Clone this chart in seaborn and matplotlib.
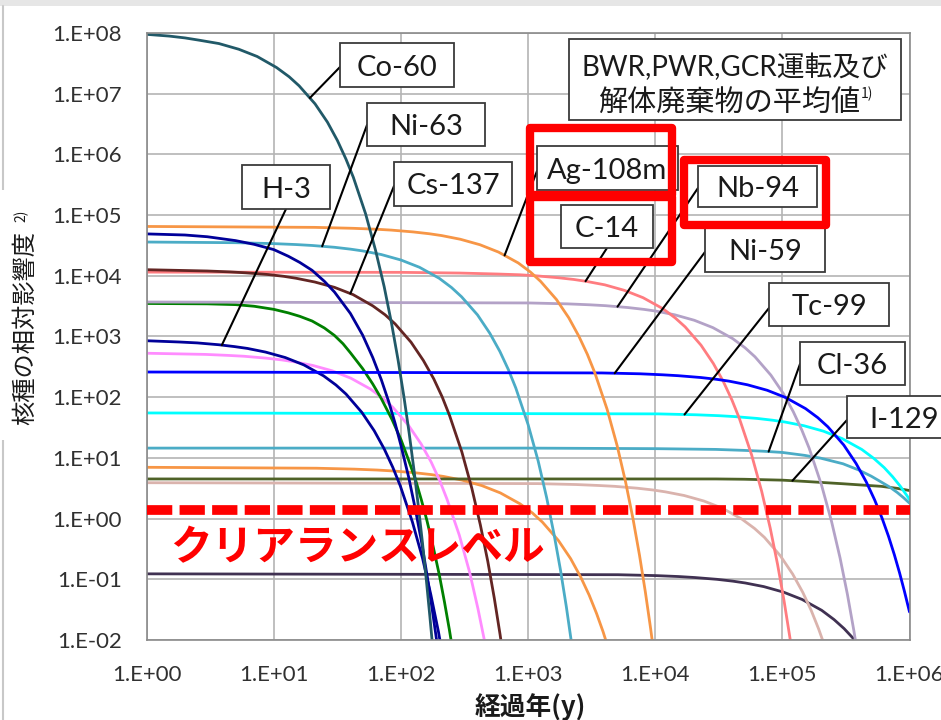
import numpy as np
import pandas as pd
import matplotlib
matplotlib.use("Agg")
import matplotlib.pyplot as plt
import matplotlib.patches as patches
from matplotlib.lines import Line2D
from matplotlib.ticker import LogLocator, NullFormatter
import seaborn as sns

# =========================================================
# DATA (years vs relative impact)
# =========================================================

co60_t = [1, 1.5, 2, 2.6, 3.7, 5.3, 7.4, 10.5, 13.2, 15.8, 21.1, 26.4, 31.6, 36.9, 42.2, 52.7,
          63.2, 73.8, 84.3, 94.9, 105.4, 115.9, 126.5, 137, 147.6, 158.1, 168.6, 179.2]
co60_v = [9.5e7, 8.9e7, 8.3e7, 7.6e7, 6.7e7, 5.4e7, 4.1e7, 2.7e7, 1.9e7, 1.35e7, 6.8e6, 3.4e6,
          1.7e6, 8.4e5, 4.2e5, 1.05e5, 2.6e4, 6.6e3, 1.65e3, 410, 103, 26, 6.4, 1.6, 0.40, 0.10,
          0.025, 0.0063]

ag108m_t = [1, 21, 42, 63, 84, 125, 167, 209, 293, 418, 585, 836, 1045, 1254, 1672, 2090,
            2508, 2926, 3344, 4180, 5016, 5852, 6688, 7524, 8360, 9196, 10032]
ag108m_v = [6.5e4, 6.28e4, 6.06e4, 5.86e4, 5.66e4, 5.28e4, 4.93e4, 4.6e4, 4.0e4, 3.25e4, 2.46e4,
            1.63e4, 1.15e4, 8.1e3, 4.06e3, 2.03e3, 1.01e3, 508, 254, 63.5, 15.9, 3.97, 0.99,
            0.248, 0.062, 0.0155, 0.0039]

eu154_t = [1, 2, 3, 5, 7, 10, 13, 16, 20, 25, 30, 35, 40, 50, 60, 70, 80, 90, 100, 115, 130,
           145, 160, 175, 190, 210]
eu154_v = [4.9e4, 4.7e4, 4.4e4, 3.8e4, 3.3e4, 2.7e4, 2.1e4, 1.66e4, 1.23e4, 8.1e3, 5.4e3,
           3.5e3, 2.4e3, 1.05e3, 450, 195, 85, 37, 16, 4.8, 1.4, 0.42, 0.12, 0.035, 0.0105, 0.002]

ni63_t = [1, 5, 10, 15, 20, 30, 40, 50, 70, 100, 140, 200, 250, 300, 400, 500, 600, 700, 800,
          1000, 1200, 1400, 1600, 1800, 2000, 2200, 2400]
ni63_v = [3.6e4, 3.51e4, 3.39e4, 3.27e4, 3.16e4, 2.95e4, 2.75e4, 2.57e4, 2.24e4, 1.82e4,
          1.38e4, 9.1e3, 6.4e3, 4.5e3, 2.27e3, 1.13e3, 567, 284, 142, 35.4, 8.9, 2.2, 0.55,
          0.14, 0.035, 0.0087, 0.0022]

c14_t = [1, 100, 290, 573, 860, 1150, 1720, 2290, 2870, 4010, 5730, 8020, 11460, 14330, 17190,
         22920, 28650, 34380, 40110, 45840, 57300, 68760, 80220, 91680, 103140, 114600, 126060]
c14_v = [1.15e4, 1.14e4, 1.11e4, 1.07e4, 1.04e4, 1.0e4, 9.3e3, 8.7e3, 8.1e3, 7.1e3, 5.75e3,
         4.36e3, 2.88e3, 2.03e3, 1.44e3, 719, 359, 180, 90, 45, 11.2, 2.81, 0.70, 0.176,
         0.044, 0.011, 0.0027]

cs137_t = [1, 3, 4.5, 6, 9, 12, 15, 21, 30, 42, 60, 75, 90, 120, 150, 181, 211, 241, 301, 361,
           421, 482, 542, 602, 662]
cs137_v = [1.26e4, 1.2e4, 1.16e4, 1.12e4, 1.05e4, 9.8e3, 9.1e3, 7.9e3, 6.45e3, 4.9e3, 3.2e3,
           2.28e3, 1.61e3, 806, 403, 201, 101, 50, 12.6, 3.15, 0.79, 0.197, 0.049, 0.0123, 0.0031]

nb94_t = [1, 1015, 2030, 3045, 4060, 6090, 8120, 10150, 14210, 20300, 28420, 40600, 50750,
          60900, 81200, 101500, 121800, 142100, 162400, 203000, 243600, 284200, 324800,
          365400, 406000]
nb94_v = [3.7e3, 3.57e3, 3.45e3, 3.33e3, 3.22e3, 3.0e3, 2.8e3, 2.62e3, 2.28e3, 1.85e3, 1.4e3,
          925, 655, 463, 231, 116, 57.8, 28.9, 14.5, 3.6, 0.90, 0.226, 0.0565, 0.0141, 0.0035]

eu152_t = [1, 3, 5, 7, 10, 13, 16, 20, 25, 30, 35, 40, 50, 60, 70, 85, 100, 115, 130, 145, 160,
           180, 200, 220, 240, 260]
eu152_v = [3.5e3, 3.45e3, 3.35e3, 3.15e3, 2.8e3, 2.45e3, 2.15e3, 1.8e3, 1.38e3, 1.04e3, 760,
           540, 295, 165, 95, 43, 20, 9.1, 4.4, 2.0, 0.93, 0.33, 0.12, 0.042, 0.015, 0.0053]

h3_t = [1, 1.8, 2.5, 3.7, 4.9, 6.2, 8.6, 12.3, 17.2, 24.6, 30.8, 37, 49.3, 61.6, 73.9, 86.2,
        98.6, 123, 148, 172, 197, 222]
h3_v = [851, 812, 784, 731, 682, 636, 554, 450, 341, 225, 159, 112.5, 56, 28, 14, 7.0, 3.5,
        0.88, 0.22, 0.055, 0.0138, 0.0034]

sr90_t = [1, 2.9, 4.3, 5.8, 8.6, 11.5, 14.4, 20.2, 28.8, 40.3, 57.6, 72, 86.4, 115, 144, 173,
          202, 230, 288, 346, 403, 461, 518]
sr90_v = [530, 507, 489, 473, 441, 412, 384, 334, 272, 206, 136, 96, 68, 34, 17, 8.5, 4.2, 2.1,
          0.53, 0.133, 0.033, 0.0083, 0.0021]

ni59_t = [1, 3800, 7600, 11400, 15200, 22800, 30400, 38000, 53200, 76000, 106400, 152000,
          190000, 228000, 304000, 380000, 456000, 532000, 608000, 684000, 760000, 836000,
          912000, 1000000]
ni59_v = [260, 251, 243, 234, 226, 211, 197, 184, 160, 130, 98.5, 65, 46, 32.5, 16.3, 8.1,
          4.06, 2.03, 1.02, 0.51, 0.254, 0.127, 0.0635, 0.029]

tc99_t = [1, 10550, 21100, 31650, 42200, 63300, 84400, 105500, 147700, 211000, 295400, 422000,
          527500, 633000, 738500, 844000, 949500, 1000000]
tc99_v = [55, 53.1, 51.3, 49.6, 47.9, 44.7, 41.7, 38.9, 33.9, 27.5, 20.8, 13.75, 9.7, 6.9,
          4.86, 3.44, 2.43, 2.07]

cl36_t = [1, 1000, 1e4, 3e4, 5e4, 7e4, 1e5, 1.5e5, 2e5, 3e5, 4e5, 5e5, 6e5, 7e5, 8e5, 9e5, 1e6]
cl36_v = [14.5, 14.5, 14.2, 13.8, 13.3, 12.9, 12.3, 11.0, 9.9, 8.0, 6.3, 5.0, 4.0, 3.3, 2.7,
          2.2, 1.8]

i129_t = [1, 1e4, 3e4, 5e4, 1e5, 1.5e5, 2e5, 3e5, 4e5, 6e5, 8e5, 1e6]
i129_v = [4.5, 4.5, 4.5, 4.45, 4.3, 4.1, 3.95, 3.75, 3.6, 3.4, 3.15, 2.9]

am241_t = [1, 21.6, 43, 65, 86, 130, 173, 216, 302, 432, 605, 864, 1080, 1296, 1728, 2160,
           2592, 3024, 3456, 3888, 4320, 4752]
am241_v = [7.0, 6.76, 6.53, 6.31, 6.1, 5.68, 5.31, 4.95, 4.31, 3.5, 2.65, 1.75, 1.24, 0.875,
           0.438, 0.219, 0.109, 0.0547, 0.0273, 0.0137, 0.0068, 0.0034]

pu239_t = [1, 1200, 2400, 3600, 4800, 7200, 9600, 12000, 16900, 24100, 33800, 48200, 60300,
           72300, 96400, 120500, 144700, 168800, 192900, 217000]
pu239_v = [3.9, 3.77, 3.64, 3.51, 3.4, 3.17, 2.96, 2.76, 2.4, 1.95, 1.48, 0.975, 0.69, 0.49,
           0.244, 0.122, 0.061, 0.0305, 0.0152, 0.0076]

ca41_t = [1, 5100, 10200, 15300, 20400, 30600, 40800, 51000, 71400, 102000, 142800, 204000,
          255000, 306000, 357000, 408000]
ca41_v = [0.123, 0.119, 0.115, 0.111, 0.107, 0.0999, 0.0932, 0.087, 0.0758, 0.0615, 0.0466,
          0.0308, 0.0217, 0.0154, 0.0109, 0.0077]

clearance_level = 1.4

ytick_values = [1e-2, 1e-1, 1e0, 1e1, 1e2, 1e3, 1e4, 1e5, 1e6, 1e7, 1e8]
ytick_labels = ["1.E-02", "1.E-01", "1.E+00", "1.E+01", "1.E+02", "1.E+03",
                "1.E+04", "1.E+05", "1.E+06", "1.E+07", "1.E+08"]
xtick_values = [1e0, 1e1, 1e2, 1e3, 1e4, 1e5, 1e6]
xtick_labels = ["1.E+00", "1.E+01", "1.E+02", "1.E+03", "1.E+04", "1.E+05", "1.E+06"]

# drawing order (last on top) and colours
curves = {
    "Ca-41":   (ca41_t,   ca41_v,   "#403152"),
    "Pu-239":  (pu239_t,  pu239_v,  "#dab3ad"),
    "Am-241":  (am241_t,  am241_v,  "#f79646"),
    "I-129":   (i129_t,   i129_v,   "#4f6228"),
    "Cl-36":   (cl36_t,   cl36_v,   "#4bacc6"),
    "Tc-99":   (tc99_t,   tc99_v,   "#00ffff"),
    "Sr-90":   (sr90_t,   sr90_v,   "#ff8cff"),
    "H-3":     (h3_t,     h3_v,     "#000099"),
    "Eu-152":  (eu152_t,  eu152_v,  "#008000"),
    "Nb-94":   (nb94_t,   nb94_v,   "#b3a2c7"),
    "C-14":    (c14_t,    c14_v,    "#ff7c80"),
    "Cs-137":  (cs137_t,  cs137_v,  "#632523"),
    "Ni-63":   (ni63_t,   ni63_v,   "#4bacc6"),
    "Eu-154":  (eu154_t,  eu154_v,  "#000099"),
    "Ni-59":   (ni59_t,   ni59_v,   "#0000ff"),
    "Ag-108m": (ag108m_t, ag108m_v, "#f79646"),
    "Co-60":   (co60_t,   co60_v,   "#215968"),
}

rows = []
for name, (t, v, c) in curves.items():
    for ti, vi in zip(t, v):
        rows.append({"nuclide": name, "year": ti, "impact": vi})
df = pd.DataFrame(rows)
palette = {name: c for name, (t, v, c) in curves.items()}

# labels: text, box (x0, x1, y0, y1) in pixels, leader start, leader anchor year
label_names = ["Co-60", "Ni-63", "H-3", "Cs-137", "Ag-108m", "C-14", "Nb-94",
               "Ni-59", "Tc-99", "Cl-36", "I-129"]
label_boxes = [(340, 454, 43, 87), (367, 485, 103, 146), (242, 330, 165, 209),
               (394, 512, 162, 206), (537, 678, 146, 190), (561, 653, 205, 248),
               (698, 817, 166, 207), (705, 825, 228, 272), (769, 889, 283, 326),
               (800, 905, 342, 385), (847, 962, 396, 438)]
leader_starts = [(340, 67), (367, 125), (286, 209), (394, 186), (537, 171), (607, 248),
                 (698, 188), (705, 252), (769, 308), (800, 364), (847, 420)]
leader_years = [19.2, 24, 3.9, 40, 653, 2830, 5050, 4800, 1.7e4, 7.8e4, 1.2e5]

red_boxes = [(530, 672, 128, 195), (530, 672, 197, 262), (684, 826, 160, 225)]

# =========================================================
# FIGURE
# =========================================================

sns.set_style("white")
plt.rcParams["font.family"] = ["Lato", "Noto Sans CJK JP", "DejaVu Sans"]

W, H = 941, 720


def fx(x):
    return x / W


def fy(y):
    return 1 - y / H


fig = plt.figure(figsize=(W / 100, H / 100), dpi=100)
ax = fig.add_axes([fx(146.7), fy(640), (909.5 - 146.7) / W, (640 - 33) / H])
ax.set_xscale("log")
ax.set_yscale("log")

sns.lineplot(
    data=df, x="year", y="impact", hue="nuclide", hue_order=list(curves.keys()),
    palette=palette, estimator=None, sort=False, legend=False, linewidth=2.0, ax=ax
)

ax.set_xlim(1, 1e6)
ax.set_ylim(1e-2, 1e8)
ax.set_xticks(xtick_values, labels=xtick_labels)
ax.set_yticks(ytick_values, labels=ytick_labels)
ax.yaxis.set_minor_locator(LogLocator(base=10, subs=np.arange(2, 10), numticks=100))
ax.xaxis.set_minor_locator(LogLocator(base=10, subs=np.arange(2, 10), numticks=100))
ax.yaxis.set_minor_formatter(NullFormatter())
ax.xaxis.set_minor_formatter(NullFormatter())
ax.tick_params(which="major", direction="in", length=6, width=1, color="#7f7f7f",
               labelsize=16, labelcolor="#303030", pad=18)
ax.tick_params(which="minor", direction="in", length=4.5, width=1, color="#7f7f7f")
ax.set_xlabel("")
ax.set_ylabel("")
ax.grid(True, which="major", color="#b4b4b4", linewidth=1.2)
for s in ax.spines.values():
    s.set_color("#8a8a8a")
    s.set_linewidth(1.2)

# clearance level
ax.axhline(clearance_level, color="#ff0000", linewidth=7, dashes=(2.6, 0.75), zorder=10)
fig.text(fx(357), fy(548), "クリアランスレベル", color="#ff0000", fontsize=30,
         fontweight="bold", family="Noto Sans CJK JP", ha="center", va="center", zorder=12)

# leaders
for (sx, sy), yr, name in zip(leader_starts, leader_years, label_names):
    t, v, c = curves[name]
    val = 10 ** np.interp(np.log10(yr), np.log10(t), np.log10(v))
    ax.annotate("", xy=(yr, val), xycoords="data", xytext=(fx(sx), fy(sy)),
                textcoords="figure fraction", annotation_clip=False,
                arrowprops=dict(arrowstyle="-", color="black", lw=1.5, shrinkA=0, shrinkB=0))

# label boxes
for name, (x0, x1, y0, y1) in zip(label_names, label_boxes):
    fig.add_artist(patches.Rectangle((fx(x0), fy(y1)), (x1 - x0) / W, (y1 - y0) / H,
                                     transform=fig.transFigure, facecolor="white",
                                     edgecolor="#3a3a3a", linewidth=1.3, zorder=5))
    fig.text(fx((x0 + x1) / 2), fy((y0 + y1) / 2), name, fontsize=21, color="#1a1a1a",
             ha="center", va="center_baseline", zorder=6)

# title box
fig.add_artist(patches.Rectangle((fx(569), fy(120)), (901 - 569) / W, (120 - 39) / H,
                                 transform=fig.transFigure, facecolor="white",
                                 edgecolor="#3a3a3a", linewidth=1.3, zorder=5))
fig.text(fx(735), fy(65), "BWR,PWR,GCR運転及び", fontsize=20, color="#1a1a1a",
         ha="center", va="center_baseline", zorder=6)
fig.text(fx(860), fy(100), "解体廃棄物の平均値", fontsize=21, color="#1a1a1a",
         family="Noto Sans CJK JP", ha="right", va="center_baseline", zorder=6)
fig.text(fx(861), fy(94), "1)", fontsize=10, color="#1a1a1a",
         family="Noto Sans CJK JP", ha="left", va="center", zorder=6)

# red highlight boxes
for (x0, x1, y0, y1) in red_boxes:
    fig.add_artist(patches.Rectangle((fx(x0), fy(y1)), (x1 - x0) / W, (y1 - y0) / H,
                                     transform=fig.transFigure, fill=False,
                                     edgecolor="#ff0000", linewidth=6, joinstyle="round",
                                     zorder=8))

# axis titles
fig.text(fx(530), fy(707), "経過年(y)", fontsize=18.5, fontweight="bold", color="#1a1a1a",
         family="Noto Sans CJK JP", ha="center", va="center")

# screenshot frame
fig.add_artist(patches.Rectangle((0, fy(6)), 1, 6 / H, transform=fig.transFigure,
                                 facecolor="#e6e6e6", edgecolor="none", zorder=1))
fig.add_artist(Line2D([fx(3), fx(3)], [0, fy(6)], transform=fig.transFigure,
                      color="#c8c8c8", linewidth=1.5, zorder=1))
fig.add_artist(patches.Rectangle((0, fy(440)), 45 / W, 250 / H, transform=fig.transFigure,
                                 facecolor="white", edgecolor="none", zorder=2))
fig.text(fx(25), fy(328), "核種の相対影響度", fontsize=17.5, color="#1a1a1a",
         family="Noto Sans CJK JP", rotation=90, ha="center", va="center", zorder=3)
fig.text(fx(21), fy(216), "2)", fontsize=10, color="#1a1a1a",
         family="Noto Sans CJK JP", rotation=90, ha="center", va="center", zorder=3)

fig.savefig("out.png", dpi=100)
